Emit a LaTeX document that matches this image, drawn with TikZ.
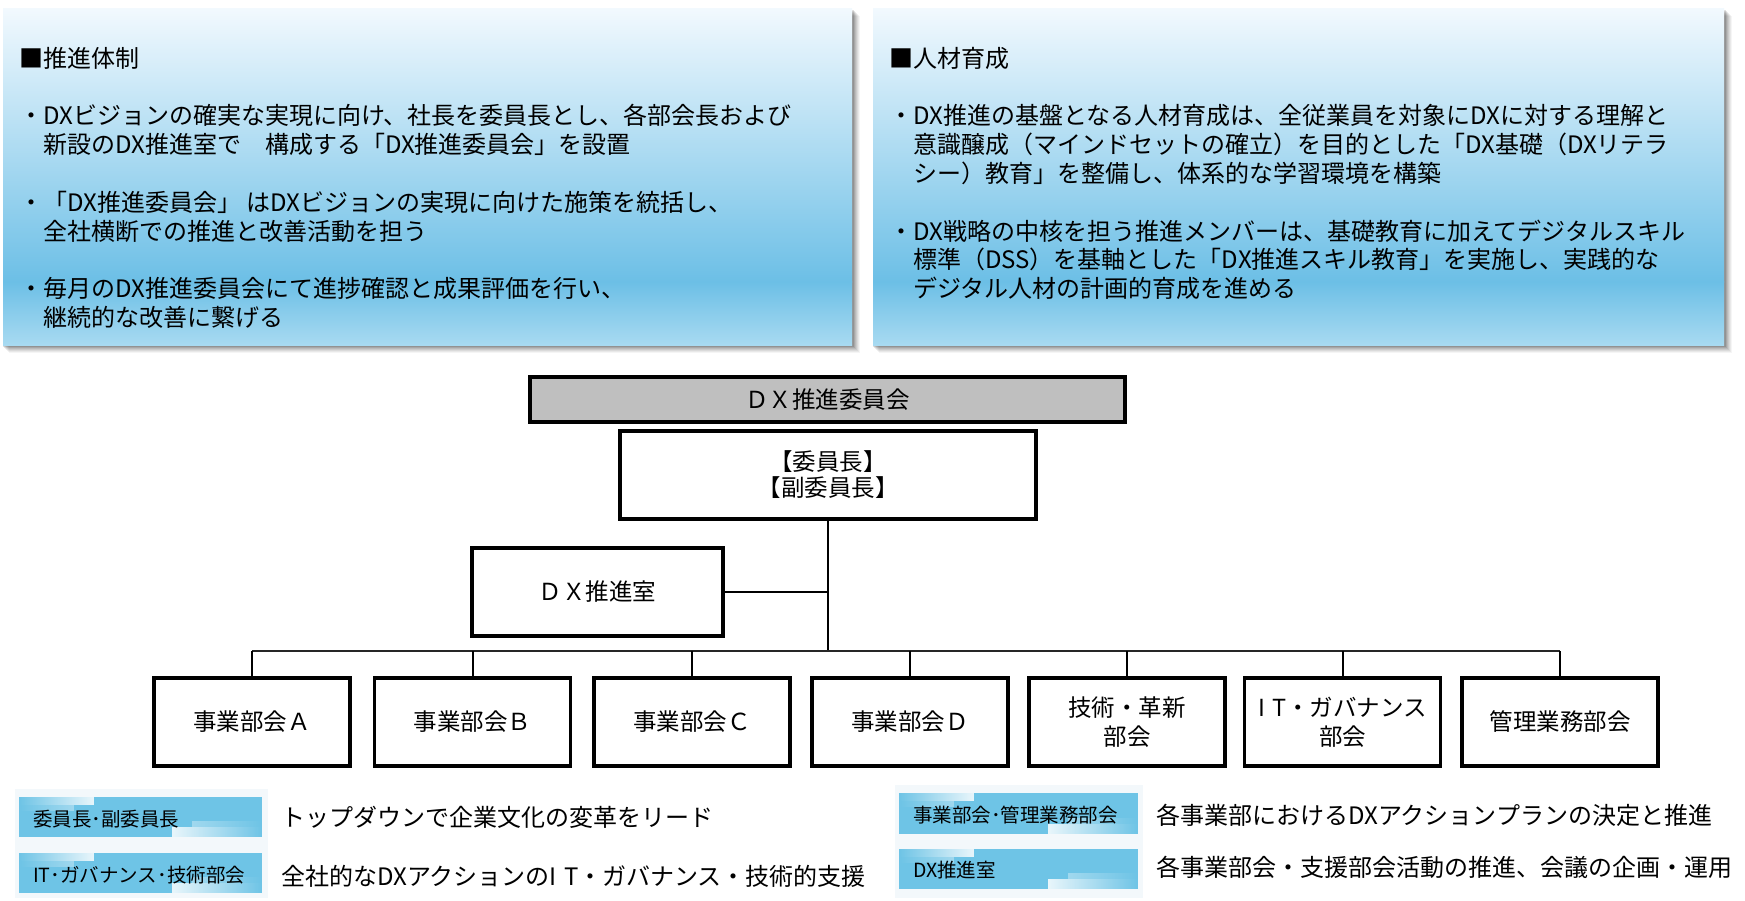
\documentclass[tikz,border=0pt]{standalone}
\usepackage{fontspec}
\setmainfont{Noto Sans CJK JP}
\usetikzlibrary{fadings}
\definecolor{lblue}{HTML}{6EC4E6}
\definecolor{ptop}{HTML}{F2F9FE}
\definecolor{pmid}{HTML}{6CBFE6}
\definecolor{pbot}{HTML}{A8DAF1}
\definecolor{lbg}{HTML}{F3F8FB}
\definecolor{cgray}{HTML}{BFBFBF}
\newcommand\mylgbox[4]{%
  \fill[lblue] (#1,#2) rectangle (#3,#4);
  \fill[white,opacity=0.85,path fading=west] (#1,#2) rectangle (#1+75,#2+8);
  \fill[white,opacity=0.35,path fading=west] (#1,#2+8) rectangle (#1+55,#2+14);
  \fill[white,opacity=0.85,path fading=east] (#3-90,#4-10) rectangle (#3,#4);
  \fill[white,opacity=0.35,path fading=east] (#3-70,#4-16) rectangle (#3,#4-10);
}
\begin{document}
\begin{tikzpicture}[x=1pt,y=-1pt,
  ptxt/.style={anchor=west,inner sep=0pt,font=\fontsize{24}{29}\selectfont},
  orgbox/.style={draw=black,line width=3.2pt,fill=white,minimum width=196pt,minimum height=88pt,inner sep=2pt,align=center,font=\fontsize{23.5}{28}\selectfont},
  link/.style={line width=2pt},
  bar/.style={line width=1.8pt,black!85},
  lgtag/.style={anchor=west,inner sep=0pt,font=\fontsize{19.5}{23}\selectfont},
  lgtxt/.style={anchor=west,inner sep=0pt,font=\fontsize{24}{29}\selectfont}]
\useasboundingbox (0,0) rectangle (1745,900);
\fill[white] (0,0) rectangle (1745,900);

% top panels
\foreach \a/\b in {3/852,873/1724}{
  \foreach \o/\op in {8/0.04,7/0.05,6/0.06,5/0.07,4/0.08,3/0.1,2/0.12}{
    \fill[black,opacity=\op] (\a+\o-2,8+\o) rectangle (\b+\o,345+\o);
  }
  \fill[top color=ptop,bottom color=pmid] (\a,8) rectangle (\b,282);
  \fill[top color=pmid,bottom color=pbot] (\a,281.5) rectangle (\b,345);
}

\node[ptxt] (h1) at (19,58) {■推進体制};
\node[ptxt] (a1) at (19,115) {・DXビジョンの確実な実現に向け、社長を委員長とし、各部会長および};
\node[ptxt] (a2) at (43,144.5) {新設のDX推進室で　構成する「DX推進委員会」を設置};
\node[ptxt] (a3) at (19,202) {・「DX推進委員会」 はDXビジョンの実現に向けた施策を統括し、};
\node[ptxt] (a4) at (43,231) {全社横断での推進と改善活動を担う};
\node[ptxt] (a5) at (19,288) {・毎月のDX推進委員会にて進捗確認と成果評価を行い、};
\node[ptxt] (a6) at (43,317) {継続的な改善に繋げる};

\node[ptxt] (h2) at (889,58) {■人材育成};
\node[ptxt] (b1) at (889,115) {・DX推進の基盤となる人材育成は、全従業員を対象にDXに対する理解と};
\node[ptxt] (b2) at (913,144) {意識醸成（マインドセットの確立）を目的とした「DX基礎（DXリテラ};
\node[ptxt] (b3) at (913,173) {シー）教育」を整備し、体系的な学習環境を構築};
\node[ptxt] (b4) at (889,231) {・DX戦略の中核を担う推進メンバーは、基礎教育に加えてデジタルスキル};
\node[ptxt] (b5) at (913,259) {標準（DSS）を基軸とした「DX推進スキル教育」を実施し、実践的な};
\node[ptxt] (b6) at (913,288) {デジタル人材の計画的育成を進める};

% org chart
\node[orgbox,fill=cgray,minimum width=595pt,minimum height=45pt] (cmte) at (827.5,399.5) {ＤＸ推進委員会};
\node[orgbox,minimum width=416pt,font=\fontsize{23.5}{26}\selectfont] (chair) at (828,475) {【委員長】\\【副委員長】};
\node[orgbox,minimum width=251pt] (room) at (597.5,592) {ＤＸ推進室};
\node[orgbox] (u1) at (252,722) {事業部会Ａ};
\node[orgbox] (u2) at (472.5,722) {事業部会Ｂ};
\node[orgbox] (u3) at (692,722) {事業部会Ｃ};
\node[orgbox] (u4) at (910,722) {事業部会Ｄ};
\node[orgbox,font=\fontsize{23.5}{29}\selectfont] (u5) at (1127,722) {技術・革新\\部会};
\node[orgbox,font=\fontsize{23.5}{29}\selectfont] (u6) at (1342.5,722) {I\hspace{0.3em}T・ガバナンス\\部会};
\node[orgbox] (u7) at (1560,722) {管理業務部会};

\coordinate (j) at (828,651);
\draw[link] (chair.south) -- (j);
\draw[link] (room.east) -- (room.east -| j);
\draw[bar] (u1.north |- j) -- (u7.north |- j);
\foreach \u in {u1,u2,u3,u4,u5,u6,u7}{
  \draw[link] (\u.north) -- (\u.north |- j);
}

% legend
\fill[lbg] (15,789) rectangle (268,898);
\fill[lbg] (895,785) rectangle (1143,898);
\mylgbox{19}{797}{262}{837}
\mylgbox{19}{853}{262}{893}
\mylgbox{899}{793}{1138}{834}
\mylgbox{899}{849}{1138}{889}
\node[lgtag] (t1) at (33,819) {委員長･副委員長};
\node[lgtag] (t2) at (33,875) {IT･ガバナンス･技術部会};
\node[lgtag] (t3) at (913,815) {事業部会･管理業務部会};
\node[lgtag] (t4) at (913,870) {DX推進室};
\node[lgtxt] (d1) at (281,817) {トップダウンで企業文化の変革をリード};
\node[lgtxt] (d2) at (281,876) {全社的なDXアクションのI\hspace{0.3em}T・ガバナンス・技術的支援};
\node[lgtxt] (d3) at (1156,815) {各事業部におけるDXアクションプランの決定と推進};
\node[lgtxt] (d4) at (1156,867) {各事業部会・支援部会活動の推進、会議の企画・運用};
\end{tikzpicture}
\end{document}
